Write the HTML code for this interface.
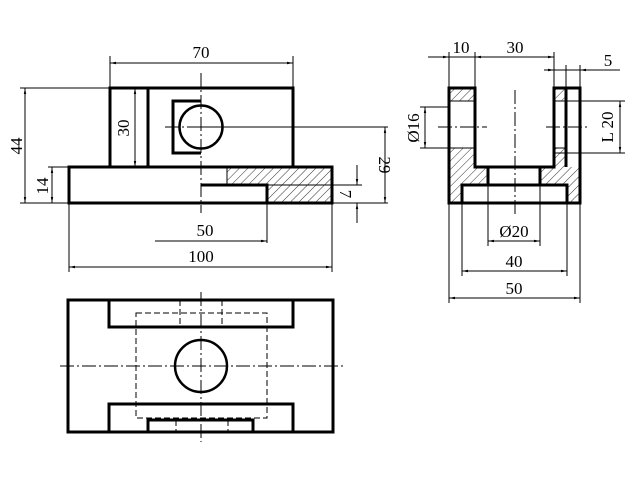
<!DOCTYPE html>
<html><head><meta charset="utf-8"><style>
html,body{margin:0;padding:0;background:#fff;width:640px;height:480px;overflow:hidden}
svg{display:block}
text{font-family:"Liberation Serif",serif;font-size:17px;fill:#000}
</style></head><body>
<svg width="640" height="480" viewBox="0 0 640 480" xmlns="http://www.w3.org/2000/svg">
<defs>
<pattern id="h" patternUnits="userSpaceOnUse" width="6" height="6" patternTransform="rotate(45)">
<line x1="0" y1="0" x2="0" y2="6" stroke="#000" stroke-width="0.8"/>
</pattern>
<marker id="a" viewBox="0 0 10 10" refX="10" refY="5" markerWidth="8" markerHeight="6" orient="auto-start-reverse"><path d="M0,3 L10,5 L0,7z" fill="#000"/></marker>
</defs>
<g fill="url(#h)" stroke="none">
<path d="M227,167H332V203H267V185H227Z"/>
<path d="M449,88H475V101H449Z"/>
<path d="M554,88H566V101H554Z"/>
<path d="M449,148H475V167H488V185H462V203H449Z"/>
<path d="M554,148H566V167H580V203H567V185H540V167H554Z"/>
</g>
<g fill="none" stroke="#000" stroke-width="3">
<path d="M110,167V88H293V167"/>
<line x1="148" y1="88" x2="148" y2="167"/>
<path d="M69,167H332V203H69Z"/>
<path d="M201,185H267V203"/>
<path d="M201,101H173V153H201"/>
<circle cx="201" cy="127" r="21.5" stroke-width="2.5"/>
<path d="M449,88H475V167H554V88H580V203H449Z"/>
<line x1="566" y1="88" x2="566" y2="167"/>
<path d="M488,167V185M540,167V185"/>
<path d="M462,203V185H567V203"/>
<rect x="68" y="300" width="265" height="132"/>
<path d="M109,300V327H293V300M109,432V404H293V432"/>
<path d="M148,432V420H253V432"/>
<circle cx="201" cy="366" r="26" stroke-width="2.5"/>
</g>
<g fill="none" stroke="#000" stroke-width="1">
<line x1="227" y1="167" x2="227" y2="185"/>
<line x1="267" y1="185" x2="332" y2="185"/>
<path d="M449,101H475M449,148H475M554,101H566M554,148H566M554,153H566"/>
<g stroke-dasharray="6,3">
<rect x="136" y="313" width="131" height="105"/>
<path d="M180,300V327M222,300V327M176,420V432M228,420V432"/>
</g>
<g stroke-dasharray="14,3,2,3">
<line x1="201" y1="73" x2="201" y2="213"/>
<line x1="165" y1="127" x2="201" y2="127"/>
<line x1="515" y1="90" x2="515" y2="215"/>
<line x1="438" y1="127" x2="487" y2="127"/>
<line x1="546" y1="127" x2="590" y2="127"/>
<line x1="201" y1="292" x2="201" y2="442"/>
<line x1="60" y1="366" x2="343" y2="366"/>
</g>
<path d="M201,127H388M110,88V56M293,88V56M20,88H110M20,203H388M48,167H69M131,167H148M332,185H362M267,203V243M69,203V272M332,203V272"/>
<line x1="110" y1="63" x2="293" y2="63" marker-start="url(#a)" marker-end="url(#a)"/>
<line x1="25" y1="88" x2="25" y2="203" marker-start="url(#a)" marker-end="url(#a)"/>
<line x1="52" y1="167" x2="52" y2="203" marker-start="url(#a)" marker-end="url(#a)"/>
<line x1="135" y1="88" x2="135" y2="167" marker-start="url(#a)" marker-end="url(#a)"/>
<line x1="385" y1="127" x2="385" y2="203" marker-start="url(#a)" marker-end="url(#a)"/>
<line x1="357" y1="165" x2="357" y2="185" marker-end="url(#a)"/>
<line x1="357" y1="223" x2="357" y2="203" marker-end="url(#a)"/>
<line x1="155" y1="241" x2="267" y2="241" marker-end="url(#a)"/>
<line x1="69" y1="267" x2="332" y2="267" marker-start="url(#a)" marker-end="url(#a)"/>
<path d="M449,88V52M475,88V52M554,88V52M580,88V65M566,88V65M420,107H449M420,148H449M566,101H625M566,153H625M488,185V246M540,185V246M462,203V276M567,203V276M449,203V303M580,203V303"/>
<line x1="428" y1="57" x2="449" y2="57" marker-end="url(#a)"/>
<line x1="449" y1="57" x2="475" y2="57"/>
<line x1="475" y1="57" x2="554" y2="57" marker-start="url(#a)" marker-end="url(#a)"/>
<line x1="544" y1="70" x2="554" y2="70" marker-end="url(#a)"/>
<line x1="554" y1="70" x2="580" y2="70"/>
<line x1="590" y1="70" x2="580" y2="70" marker-end="url(#a)"/>
<line x1="580" y1="70" x2="620" y2="70"/>
<line x1="425" y1="107" x2="425" y2="148" marker-start="url(#a)" marker-end="url(#a)"/>
<line x1="620" y1="101" x2="620" y2="153" marker-start="url(#a)" marker-end="url(#a)"/>
<line x1="488" y1="241" x2="540" y2="241" marker-start="url(#a)" marker-end="url(#a)"/>
<line x1="462" y1="271" x2="567" y2="271" marker-start="url(#a)" marker-end="url(#a)"/>
<line x1="449" y1="298" x2="580" y2="298" marker-start="url(#a)" marker-end="url(#a)"/>
</g>
<text x="201" y="58" text-anchor="middle">70</text>
<text transform="translate(22,146) rotate(-90)" text-anchor="middle">44</text>
<text transform="translate(48,186) rotate(-90)" text-anchor="middle">14</text>
<text transform="translate(129,128) rotate(-90)" text-anchor="middle">30</text>
<text transform="translate(379,165) rotate(90)" text-anchor="middle">29</text>
<text transform="translate(340,194) rotate(90)" text-anchor="middle">7</text>
<text x="205" y="236" text-anchor="middle">50</text>
<text x="201" y="262" text-anchor="middle">100</text>
<text x="461" y="53" text-anchor="middle">10</text>
<text x="515" y="53" text-anchor="middle">30</text>
<text x="608" y="66" text-anchor="middle">5</text>
<text transform="translate(419,128) rotate(-90)" text-anchor="middle">Ø16</text>
<text transform="translate(613,127) rotate(-90)" text-anchor="middle">L 20</text>
<text x="514" y="237" text-anchor="middle">Ø20</text>
<text x="514" y="267" text-anchor="middle">40</text>
<text x="514" y="294" text-anchor="middle">50</text>
</svg>
</body></html>
